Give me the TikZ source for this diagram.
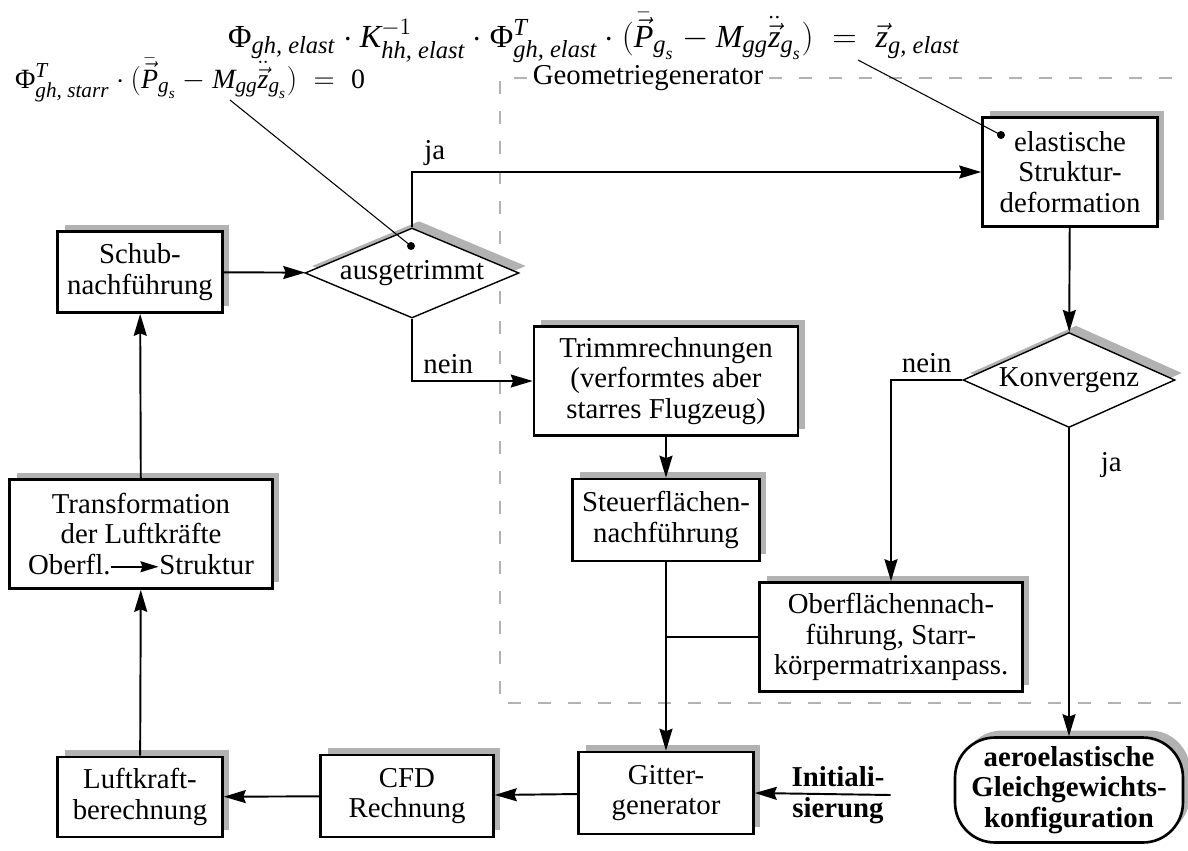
\documentclass[tikz,border=0pt]{standalone}
\usepackage{amsmath}
\usepackage{graphicx}
\usepackage{fontspec}
\setmainfont{Liberation Serif}
\usetikzlibrary{shapes.geometric, arrows.meta, positioning, shadows}

\newcommand{\ti}[1]{\text{\itshape #1}}
\newcommand{\sub}[1]{\text{\fontsize{12.5}{12.5}\selectfont\itshape #1}}
\newcommand{\subs}[1]{\text{\fontsize{9}{9}\selectfont\itshape #1}}

\begin{document}
\begin{tikzpicture}[
    x=0.02cm, y=-0.02cm,
    font=\fontsize{16.4}{17.5}\selectfont,
    boxshadow/.style={general shadow={fill=black!30, shadow xshift=0.14cm, shadow yshift=0.14cm}},
    box/.style={rectangle, draw, line width=1.5pt, fill=white, boxshadow, align=center, inner sep=0pt},
    decision/.style={diamond, draw, line width=0.8pt, fill=white, boxshadow, aspect=2.4, inner sep=0pt},
    terminal/.style={rectangle, rounded corners=0.8cm, draw, line width=1.5pt, fill=white, boxshadow, align=center, inner sep=0pt, font=\fontsize{16.4}{17.5}\selectfont\bfseries},
    arrow/.style={-{Stealth[length=0.44cm, width=0.26cm, inset=0.05cm]}, line width=1.1pt},
    link/.style={line width=1.1pt},
    pointer/.style={line width=0.6pt},
    geoframe/.style={draw=black!30, line width=1.2pt, dash pattern=on 0.26cm off 0.34cm},
]
    \useasboundingbox (0,0) rectangle (1188,850);

    % Geometriegenerator frame
    \node (geo) at (648,78) {Geometriegenerator};
    \draw[geoframe] (geo.west) -- (500,78) -- (500,703) -- (1200,703);
    \draw[geoframe] (geo.east) -- (1200,78);

    % Formulas
    \node[inner sep=0pt] (fone) at (594,38) {\resizebox{14.64cm}{!}{$\text{Φ}_{\sub{gh, elast}} \cdot \ti{K}^{-1}_{\sub{hh, elast}} \cdot \text{Φ}^{\sub{T}}_{\sub{gh, elast}} \cdot (\bar{\vec{\ti{P}}}_{\sub{g}_{\subs{s}}} - \ti{M}_{\sub{gg}}\ddot{\vec{\ti{z}}}_{\sub{g}_{\subs{s}}}) \;=\; \vec{\ti{z}}_{\sub{g, elast}}$}};
    \node[inner sep=0pt] (ftwo) at (190,80) {\resizebox{7cm}{!}{$\text{Φ}^{\sub{T}}_{\sub{gh, starr}} \cdot (\bar{\vec{\ti{P}}}_{\sub{g}_{\subs{s}}} - \ti{M}_{\sub{gg}}\ddot{\vec{\ti{z}}}_{\sub{g}_{\subs{s}}}) \;=\; \text{0}$}};

    % Nodes
    \node[box, minimum width=3.3cm, minimum height=1.62cm] (schub) at (140,272) {Schub-\\nachführung};
    \node[decision, minimum width=4.28cm, minimum height=1.8cm] (trimmed) at (412,273) {ausgetrimmt};
    \node[box, minimum width=3.5cm, minimum height=2.18cm] (elast) at (1070,172) {elastische\\Struktur-\\deformation};
    \node[decision, minimum width=4.24cm, minimum height=1.9cm] (konv) at (1069,380) {Konvergenz};
    \node[box, minimum width=5.28cm, minimum height=2.18cm] (trimm) at (666,381) {Trimmrechnungen\\(verformtes aber\\starres Flugzeug)};
    \node[box, minimum width=3.74cm, minimum height=1.64cm] (steuer) at (666,520) {Steuerflächen-\\nachführung};
    \node[box, minimum width=5.26cm, minimum height=2.18cm] (ober) at (891,637) {Oberflächennach-\\führung, Starr-\\körpermatrixanpass.};
    \node[box, minimum width=5.26cm, minimum height=2.18cm] (trans) at (141,534) {Transformation\\der Luftkräfte\\Oberfl.\tikz[baseline=-0.6ex, x=1cm, y=1cm]\draw[-{Stealth[length=0.36cm, width=0.22cm, inset=0.04cm]}, line width=1.1pt] (0,0) -- (0.94,0);Struktur};
    \node[box, minimum width=3.3cm, minimum height=1.6cm] (luft) at (140,797) {Luftkraft-\\berechnung};
    \node[box, minimum width=3.46cm, minimum height=1.64cm] (cfd) at (407,796) {CFD\\Rechnung};
    \node[box, minimum width=3.5cm, minimum height=1.64cm] (gitter) at (666,793) {Gitter-\\generator};
    \node[align=center, font=\fontsize{16.4}{17.5}\selectfont\bfseries] (init) at (838,795) {Initiali-\\sierung};
    \node[terminal, minimum width=4.56cm, minimum height=2.1cm] (aero) at (1069,790) {aeroelastische\\Gleichgewichts-\\konfiguration};

    % Pointers from the formulas
    \coordinate (tipone) at (858,60);
    \coordinate (dotone) at (1001,135);
    \coordinate (tiptwo) at (230,100);
    \coordinate (dottwo) at (411,246);
    \draw[pointer] (tipone) -- (dotone);
    \draw[pointer] (tiptwo) -- (dottwo);
    \fill (dotone) circle (0.08cm);
    \fill (dottwo) circle (0.08cm);

    % Arrows
    \draw[arrow] (luft) -- (trans);
    \draw[arrow] (trans) -- (schub);
    \draw[arrow] (schub) -- (trimmed);
    \draw[arrow] (trimmed.north) |- node[pos=0.52, above] {ja} (elast.west);
    \draw[arrow] (trimmed.south) |- node[pos=0.65, above] {nein} (trimm.west);
    \draw[arrow] (trimm) -- (steuer);
    \draw[arrow] (steuer) -- (gitter);
    \draw[link] (ober.west) -- (ober.west -| steuer.south);
    \draw[arrow] (gitter) -- (cfd);
    \draw[arrow] (cfd) -- (luft);
    \draw[arrow] (init.east) -- (gitter.east);
    \draw[arrow] (elast) -- (konv);
    \draw[arrow] (konv.west) -| node[pos=0.25, above] {nein} (ober.north);
    \draw[arrow] (konv.south) -- node[pos=0.12, right=0.5cm] {ja} (aero.north);
\end{tikzpicture}
\end{document}
